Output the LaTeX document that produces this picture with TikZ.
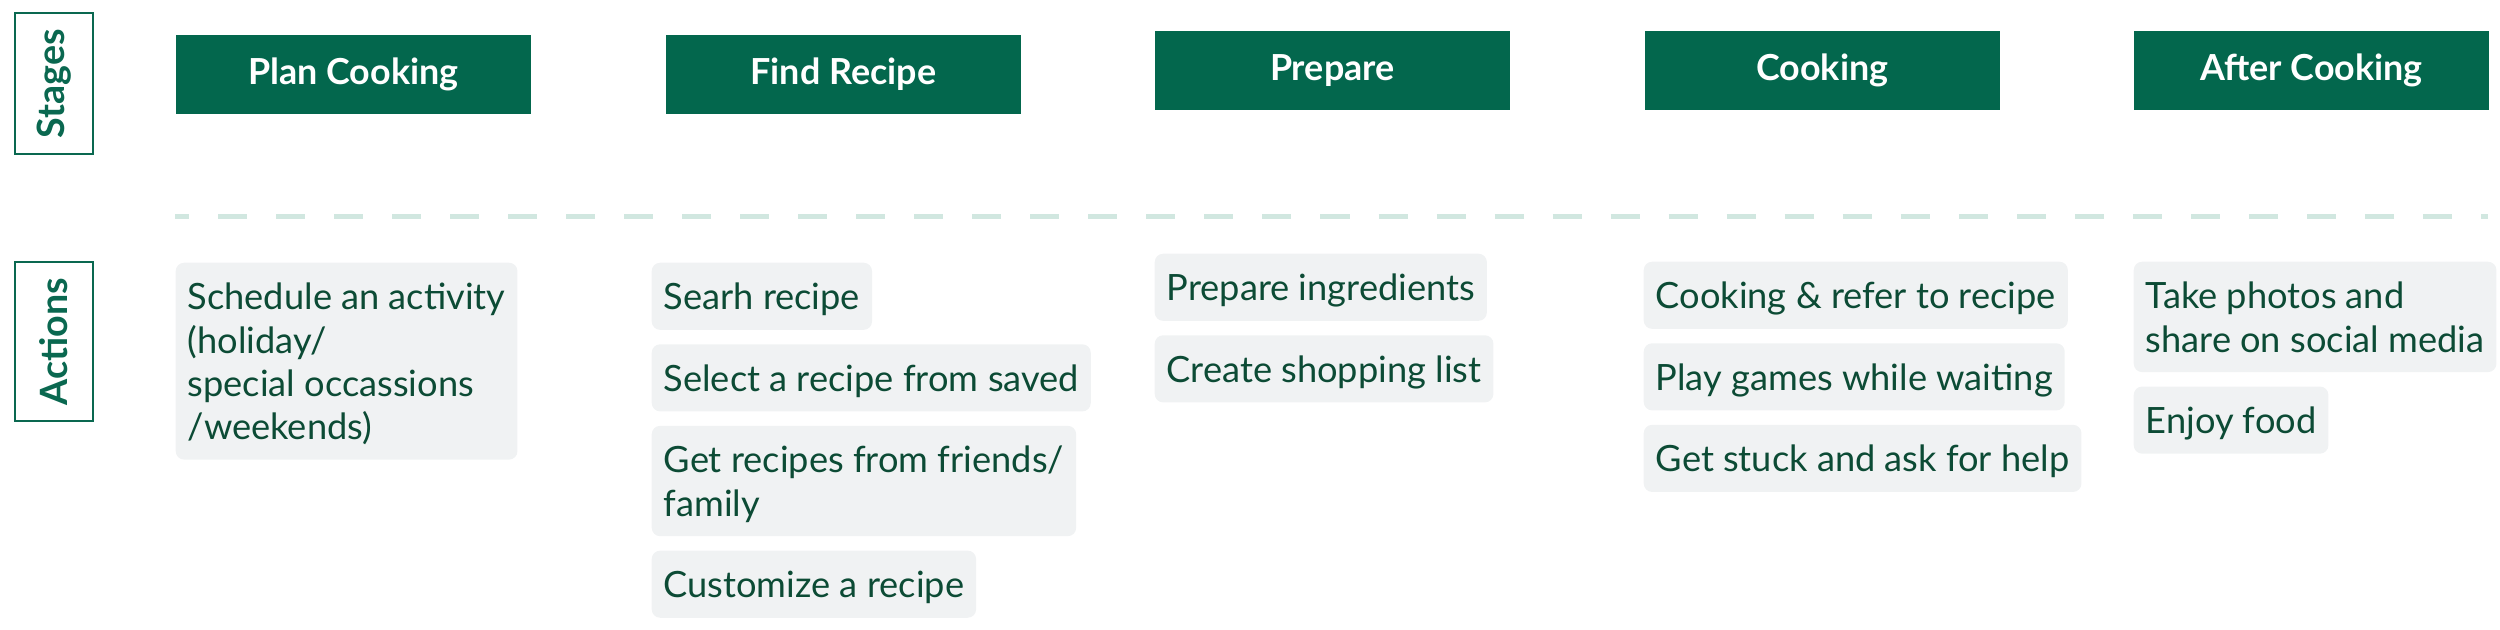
\documentclass[tikz,border=0pt]{standalone}
\usepackage{fontspec}
\setmainfont{Lato}
\usetikzlibrary{positioning}
\definecolor{stagegreen}{HTML}{03674D}
\definecolor{taggreen}{HTML}{0A6850}
\definecolor{acttext}{HTML}{0C4B35}
\definecolor{actfill}{HTML}{F0F2F3}
\definecolor{dashgreen}{HTML}{D1E7E0}
\newcommand\actlines[1]{\begin{tabular}{@{}l@{}}\rule{0pt}{11.4pt}#1\rule[-3.6pt]{0pt}{0pt}\end{tabular}}

\begin{document}
\begin{tikzpicture}[x=0.01cm,y=-0.01cm,
    stagebox/.style={fill=stagegreen,text=white,anchor=north west,minimum width=3.55cm,minimum height=0.79cm,
      inner sep=0pt,font=\fontsize{10.2}{12}\selectfont\bfseries},
    tagbox/.style={draw=taggreen,line width=0.5pt,rotate=90,minimum height=0.78cm,text=taggreen,
      inner sep=0pt,font=\fontsize{10.7}{12}\selectfont\bfseries},
    actbox/.style={fill=actfill,text=acttext,rounded corners=2.4pt,anchor=north west,
      inner xsep=0.12cm,inner ysep=2pt,font=\fontsize{10.3}{12.3}\selectfont},
    gap/.style={below=0.13cm of #1.south west,anchor=north west}]

    \useasboundingbox (0,0) rectangle (2500,629);

    % row labels
    \node (stagestag) at (54,83.5) [tagbox,minimum width=1.41cm] {Stages};
    \node (actionstag) at (54,341.5) [tagbox,minimum width=1.59cm] {Actions};

    % stages
    \node (plan) at (175,34) [stagebox] {Plan Cooking};
    \node (find) at (665,34) [stagebox] {Find Recipe};
    \node (prep) at (1154,30) [stagebox] {Prepare};
    \node (cook) at (1644,30) [stagebox] {Cooking};
    \node (after) at (2133,30) [stagebox] {After Cooking};

    \coordinate (dashl) at (175,216);
    \coordinate (dashr) at (2488,216);
    \draw[dashgreen,line width=1.42pt,dash pattern=on 8.25pt off 8.25pt,dash phase=4.27pt] (dashl) -- (dashr);

    % actions
    \node (plan1) at (175,262) [actbox] {\actlines{Schedule an activity\\(holiday/\\special occassions\\/weekends)}};

    \node (find1) at (651,262) [actbox] {\actlines{Searh recipe}};
    \node (find2) [actbox,gap=find1] {\actlines{Select a recipe from saved}};
    \node (find3) [actbox,gap=find2] {\actlines{Get recipes from friends/\\family}};
    \node (find4) [actbox,gap=find3] {\actlines{Customize a recipe}};

    \node (prep1) at (1154,253) [actbox] {\actlines{Prepare ingredients}};
    \node (prep2) [actbox,gap=prep1] {\actlines{Create shopping list}};

    \node (cook1) at (1643,261) [actbox] {\actlines{Cooking \& refer to recipe}};
    \node (cook2) [actbox,gap=cook1] {\actlines{Play games while waiting}};
    \node (cook3) [actbox,gap=cook2] {\actlines{Get stuck and ask for help}};

    \node (after1) at (2133,261) [actbox] {\actlines{Take photos and\\share on social media}};
    \node (after2) [actbox,gap=after1] {\actlines{Enjoy food}};

\end{tikzpicture}
\end{document}
